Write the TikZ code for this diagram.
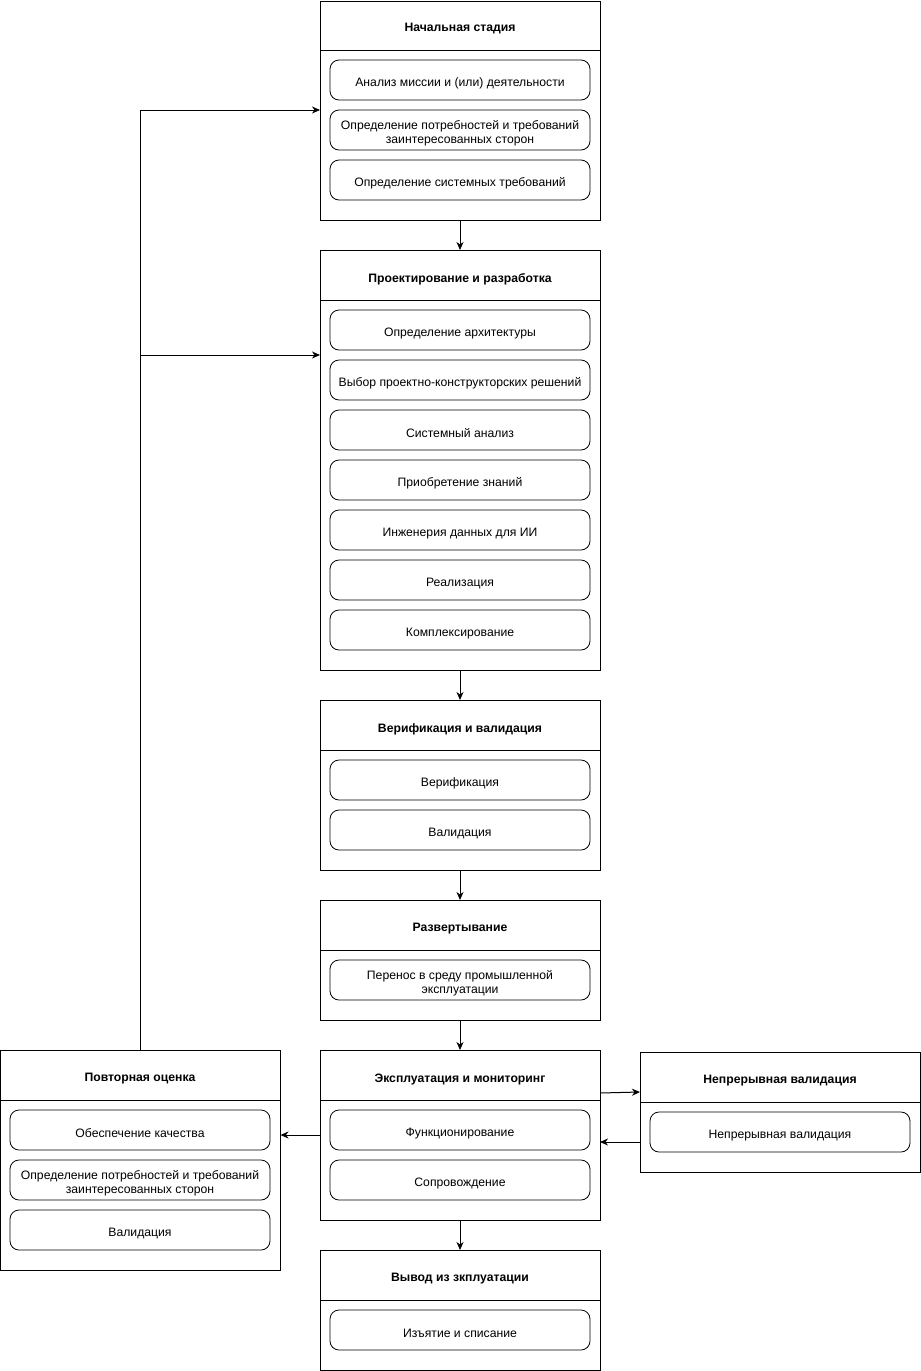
\documentclass[tikz,border=0pt]{standalone}
\usepackage{fontspec}
\setmainfont{Liberation Sans}
\usetikzlibrary{arrows.meta}
\newcommand{\fs}{\fontsize{12.2}{14}\selectfont}
\tikzset{
  cont/.style={draw, line width=1pt, minimum width=280pt, anchor=north west, inner sep=0pt, outer sep=0pt},
  itembox/.style={draw, rounded corners=9pt, line width=0.8pt, minimum width=260pt, minimum height=40pt, anchor=north west, inner sep=0pt, outer sep=0pt,
    label={[font=\fs, align=center, inner sep=0pt, yshift=-3.5pt]center:#1}},
  ttl/.style={font=\fs\bfseries, inner sep=0pt},
  hdr/.style={line width=1pt},
  arr/.style={-{Stealth[length=8pt,width=7pt,inset=2.5pt]}, line width=1pt}
}
\begin{document}
\begin{tikzpicture}[x=1pt,y=-1pt]
\useasboundingbox (0,0) rectangle (921,1371);

% Stage 1
\node[cont, minimum height=219pt] (s1) at (320,1) {};
\draw[hdr] (320,50) -- (600,50);
\node[ttl] (s1t) at (460,29) {Начальная стадия};
\node[itembox={Анализ миссии и (или) деятельности}] (s1a) at (330,60) {};
\node[itembox={Определение потребностей и требований\\заинтересованных сторон}] (s1b) at (330,110) {};
\node[itembox={Определение системных требований}] (s1c) at (330,160) {};

% Stage 2
\node[cont, minimum height=420pt] (s2) at (320,250) {};
\draw[hdr] (320,300) -- (600,300);
\node[ttl] (s2t) at (460,279) {Проектирование и разработка};
\node[itembox={Определение архитектуры}] (s2a) at (330,310) {};
\node[itembox={Выбор проектно-конструкторских решений}] (s2b) at (330,360) {};
\node[itembox={Системный анализ}] (s2c) at (330,410) {};
\node[itembox={Приобретение знаний}] (s2d) at (330,460) {};
\node[itembox={Инженерия данных для ИИ}] (s2e) at (330,510) {};
\node[itembox={Реализация}] (s2f) at (330,560) {};
\node[itembox={Комплексирование}] (s2g) at (330,610) {};

% Stage 3
\node[cont, minimum height=170pt] (s3) at (320,700) {};
\draw[hdr] (320,750) -- (600,750);
\node[ttl] (s3t) at (460,729) {Верификация и валидация};
\node[itembox={Верификация}] (s3a) at (330,760) {};
\node[itembox={Валидация}] (s3b) at (330,810) {};

% Stage 4
\node[cont, minimum height=120pt] (s4) at (320,900) {};
\draw[hdr] (320,950) -- (600,950);
\node[ttl] (s4t) at (460,929) {Развертывание};
\node[itembox={Перенос в среду промышленной\\эксплуатации}] (s4a) at (330,960) {};

% Stage 5
\node[cont, minimum height=170pt] (s5) at (320,1050) {};
\draw[hdr] (320,1100) -- (600,1100);
\node[ttl] (s5t) at (460,1079) {Эксплуатация и мониторинг};
\node[itembox={Функционирование}] (s5a) at (330,1110) {};
\node[itembox={Сопровождение}] (s5b) at (330,1160) {};

% Stage 6
\node[cont, minimum height=120pt] (s6) at (320,1250) {};
\draw[hdr] (320,1300) -- (600,1300);
\node[ttl] (s6t) at (460,1279) {Вывод из зкплуатации};
\node[itembox={Изъятие и списание}] (s6a) at (330,1310) {};

% Re-evaluation
\node[cont, minimum height=220pt] (r) at (0.5,1050) {};
\draw[hdr] (0.5,1100) -- (280.5,1100);
\node[ttl] (rt) at (140,1079) {Повторная оценка};
\node[itembox={Обеспечение качества}] (ra) at (10,1110) {};
\node[itembox={Определение потребностей и требований\\заинтересованных сторон}] (rb) at (10,1160) {};
\node[itembox={Валидация}] (rc) at (10,1210) {};

% Continuous validation
\node[cont, minimum height=120pt] (c) at (640,1052) {};
\draw[hdr] (640,1102) -- (920,1102);
\node[ttl] (ct) at (780,1081) {Непрерывная валидация};
\node[itembox={Непрерывная валидация}] (ca) at (650,1112) {};

% Connectors
\draw[arr] (s1.south) -- (s2.north);
\draw[arr] (s2.south) -- (s3.north);
\draw[arr] (s3.south) -- (s4.north);
\draw[arr] (s4.south) -- (s5.north);
\draw[arr] (s5.south) -- (s6.north);

\coordinate (fb1) at (320,110);
\coordinate (fb2) at (320,355);
\draw[arr] (r.north) |- (fb1);
\draw[arr] (r.north |- fb2) -- (fb2);

\coordinate (e1) at (320,1135);
\coordinate (r1) at (280.5,1135);
\draw[arr] (e1) -- (r1);

\coordinate (e2) at (600,1093);
\coordinate (c2) at (640,1092);
\draw[arr] (e2) -- (c2);

\coordinate (c3) at (640,1142);
\coordinate (e3) at (600,1142);
\draw[arr] (c3) -- (e3);
\end{tikzpicture}
\end{document}
